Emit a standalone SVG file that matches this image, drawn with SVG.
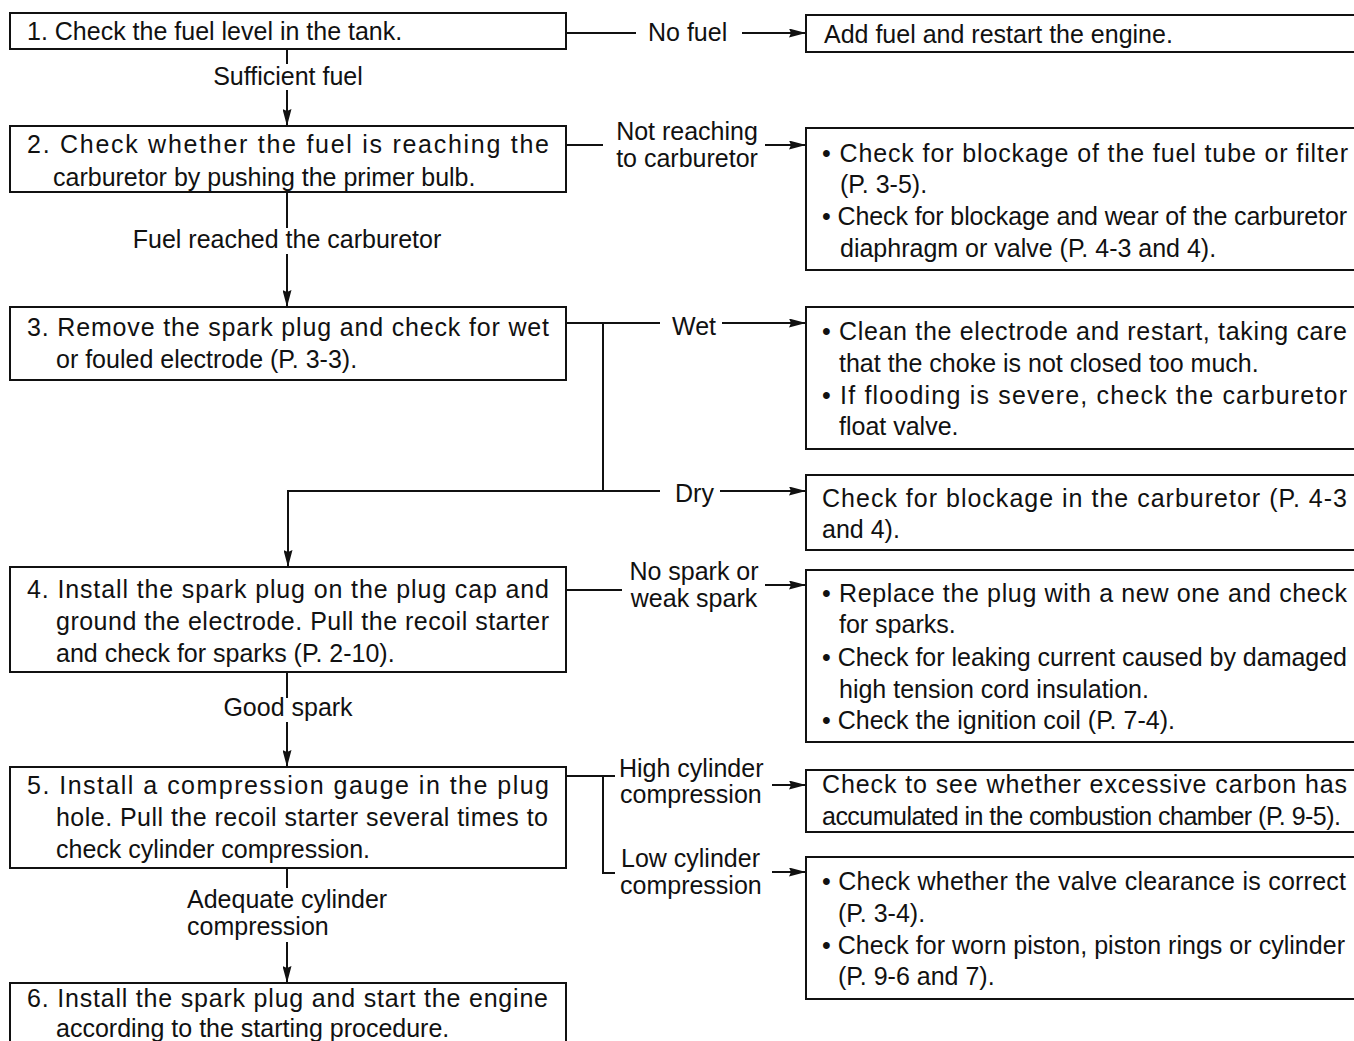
<svg xmlns="http://www.w3.org/2000/svg" width="1354" height="1041" viewBox="0 0 1354 1041">
<defs>
<style>
.box{fill:#fff;stroke:#111;stroke-width:2}
.ln{fill:none;stroke:#111;stroke-width:2}
text{font-family:"Liberation Sans",Arial,Helvetica,sans-serif;font-size:25px;fill:#111}
.c{text-anchor:middle}
</style>
<marker id="arr" viewBox="0 0 17 9" refX="17" refY="4.5" markerWidth="17" markerHeight="9" orient="auto" markerUnits="userSpaceOnUse">
<path d="M0,0 L17,4.5 L0,9 L2,4.5 z" fill="#111"/>
</marker>
</defs>
<rect width="1354" height="1041" fill="#fff"/>

<g id="connectors">
<line class="ln" x1="566" y1="33" x2="636" y2="33"/>
<line class="ln" x1="742" y1="33" x2="806" y2="33" marker-end="url(#arr)"/>
<line class="ln" x1="287" y1="49" x2="287" y2="64"/>
<line class="ln" x1="287" y1="90" x2="287" y2="126" marker-end="url(#arr)"/>
<line class="ln" x1="566" y1="145" x2="603" y2="145"/>
<line class="ln" x1="765" y1="145" x2="806" y2="145" marker-end="url(#arr)"/>
<line class="ln" x1="287" y1="192" x2="287" y2="228"/>
<line class="ln" x1="287" y1="254" x2="287" y2="307" marker-end="url(#arr)"/>
<line class="ln" x1="566" y1="323" x2="660" y2="323"/>
<line class="ln" x1="603" y1="323" x2="603" y2="491"/>
<polyline class="ln" points="660,491 288,491 288,567" marker-end="url(#arr)"/>
<line class="ln" x1="722" y1="323" x2="806" y2="323" marker-end="url(#arr)"/>
<line class="ln" x1="720" y1="491" x2="806" y2="491" marker-end="url(#arr)"/>
<line class="ln" x1="566" y1="590" x2="622" y2="590"/>
<line class="ln" x1="765" y1="585" x2="806" y2="585" marker-end="url(#arr)"/>
<line class="ln" x1="287" y1="672" x2="287" y2="698"/>
<line class="ln" x1="287" y1="722" x2="287" y2="767" marker-end="url(#arr)"/>
<polyline class="ln" points="566,776 615,776"/>
<polyline class="ln" points="603,776 603,873 615,873"/>
<line class="ln" x1="772" y1="785" x2="806" y2="785" marker-end="url(#arr)"/>
<line class="ln" x1="772" y1="872" x2="806" y2="872" marker-end="url(#arr)"/>
<line class="ln" x1="287" y1="868" x2="287" y2="888"/>
<line class="ln" x1="287" y1="942" x2="287" y2="983" marker-end="url(#arr)"/>
</g>

<g id="labels">
<text x="648" y="41">No fuel</text>
<text class="c" x="288" y="85">Sufficient fuel</text>
<text class="c" x="687" y="140">Not reaching</text>
<text class="c" x="687" y="167">to carburetor</text>
<text class="c" x="287" y="248">Fuel reached the carburetor</text>
<text x="672" y="335">Wet</text>
<text x="675" y="502">Dry</text>
<text class="c" x="694" y="580">No spark or</text>
<text class="c" x="694" y="607">weak spark</text>
<text class="c" x="288" y="716">Good spark</text>
<text x="619" y="777">High cylinder</text>
<text x="620" y="803">compression</text>
<text x="621" y="867">Low cylinder</text>
<text x="620" y="894">compression</text>
<text x="187" y="908">Adequate cylinder</text>
<text x="187" y="935">compression</text>
</g>

<g id="step1">
<rect class="box" x="10" y="13" width="556" height="36"/>
<text x="27" y="40">1. Check the fuel level in the tank.</text>
</g>
<g id="step2">
<rect class="box" x="10" y="126" width="556" height="66"/>
<text x="27" y="153" textLength="522">2. Check whether the fuel is reaching the</text>
<text x="53" y="186">carburetor by pushing the primer bulb.</text>
</g>
<g id="step3">
<rect class="box" x="10" y="307" width="556" height="73"/>
<text x="27" y="336" textLength="522">3. Remove the spark plug and check for wet</text>
<text x="56" y="368">or fouled electrode (P. 3-3).</text>
</g>
<g id="step4">
<rect class="box" x="10" y="567" width="556" height="105"/>
<text x="27" y="598" textLength="522">4. Install the spark plug on the plug cap and</text>
<text x="56" y="630" textLength="493">ground the electrode. Pull the recoil starter</text>
<text x="56" y="662">and check for sparks (P. 2-10).</text>
</g>
<g id="step5">
<rect class="box" x="10" y="767" width="556" height="101"/>
<text x="27" y="794" textLength="522">5. Install a compression gauge in the plug</text>
<text x="56" y="826" textLength="492">hole. Pull the recoil starter several times to</text>
<text x="56" y="858">check cylinder compression.</text>
</g>
<g id="step6">
<rect class="box" x="10" y="983" width="556" height="70"/>
<text x="27" y="1007" textLength="521">6. Install the spark plug and start the engine</text>
<text x="56" y="1037">according to the starting procedure.</text>
</g>

<g id="addfuel">
<rect class="box" x="806" y="15" width="560" height="37"/>
<text x="824" y="43">Add fuel and restart the engine.</text>
</g>
<g id="notreaching">
<rect class="box" x="806" y="128" width="560" height="142"/>
<text x="822" y="162" textLength="526">• Check for blockage of the fuel tube or filter</text>
<text x="840" y="193">(P. 3-5).</text>
<text x="822" y="225" textLength="525">• Check for blockage and wear of the carburetor</text>
<text x="840" y="257">diaphragm or valve (P. 4-3 and 4).</text>
</g>
<g id="wet">
<rect class="box" x="806" y="307" width="560" height="142"/>
<text x="822" y="340" textLength="525">• Clean the electrode and restart, taking care</text>
<text x="839" y="372">that the choke is not closed too much.</text>
<text x="822" y="404" textLength="525">• If flooding is severe, check the carburetor</text>
<text x="839" y="435">float valve.</text>
</g>
<g id="dry">
<rect class="box" x="806" y="475" width="560" height="75"/>
<text x="822" y="507" textLength="525">Check for blockage in the carburetor (P. 4-3</text>
<text x="822" y="538">and 4).</text>
</g>
<g id="nospark">
<rect class="box" x="806" y="570" width="560" height="172"/>
<text x="822" y="602" textLength="525">• Replace the plug with a new one and check</text>
<text x="839" y="633">for sparks.</text>
<text x="822" y="666" textLength="525">• Check for leaking current caused by damaged</text>
<text x="839" y="698">high tension cord insulation.</text>
<text x="822" y="729">• Check the ignition coil (P. 7-4).</text>
</g>
<g id="highcomp">
<rect class="box" x="806" y="770" width="560" height="62"/>
<text x="822" y="793" textLength="525">Check to see whether excessive carbon has</text>
<text x="822" y="825" textLength="519">accumulated in the combustion chamber (P. 9-5).</text>
</g>
<g id="lowcomp">
<rect class="box" x="806" y="857" width="560" height="142"/>
<text x="822" y="890" textLength="524">• Check whether the valve clearance is correct</text>
<text x="838" y="922">(P. 3-4).</text>
<text x="822" y="954" textLength="523">• Check for worn piston, piston rings or cylinder</text>
<text x="838" y="985">(P. 9-6 and 7).</text>
</g>
</svg>
